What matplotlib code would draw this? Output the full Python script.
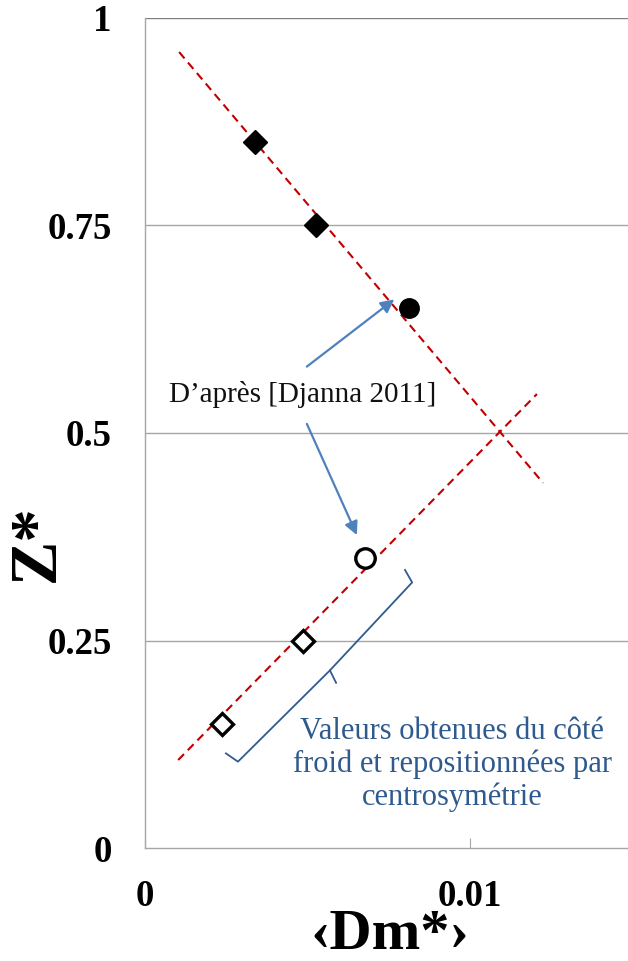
import matplotlib
matplotlib.use("Agg")
import matplotlib.pyplot as plt
import numpy as np

plt.rcParams['font.family'] = ['Liberation Serif', 'DejaVu Serif']

# mean diameter vs height, hot side (filled) and cold side mirrored (open)
dm_hot = [0.00338, 0.00526]
z_hot = [0.85, 0.75]
dm_ref_hot = [0.00812]
z_ref_hot = [0.65]
dm_ref_cold = [0.00677]
z_ref_cold = [0.35]
dm_cold = [0.00486, 0.00237]
z_cold = [0.25, 0.15]

# trend lines (start, end)
trend1_x = [0.00105, 0.01225]
trend1_y = [0.959, 0.4398]
trend2_x = [0.00102, 0.01206]
trend2_y = [0.106, 0.547]

yticks = [0, 0.25, 0.5, 0.75, 1]
ytick_labels = ['0', '0.25', '0.5', '0.75', '1']
xticks = [0, 0.01]
xtick_labels = ['0', '0.01']

fig = plt.figure(figsize=(6.28, 9.61), dpi=100)
ax = fig.add_axes([145 / 628, 113 / 961, 483 / 628, 830 / 961])
ax.set_xlim(0, 483 / 32500)
ax.set_ylim(0, 1)

grey = '#a6a6a6'
for y in yticks[1:]:
    ax.axhline(y, color=grey if y < 1 else '#808080', lw=1.0, zorder=0)

for s in ['top', 'right']:
    ax.spines[s].set_visible(False)
ax.spines['left'].set_color(grey)
ax.spines['bottom'].set_color(grey)
ax.spines['left'].set_linewidth(1.0)
ax.spines['bottom'].set_linewidth(1.0)

red = '#c00000'
ax.plot(trend1_x, trend1_y, ls=(0, (4, 2.6)), color=red, lw=1.5, zorder=2)
ax.plot(trend2_x, trend2_y, ls=(0, (4, 2.6)), color=red, lw=1.5, zorder=2)

ax.plot(dm_hot, z_hot, 'D', ms=12, color='black', zorder=3)
ax.plot(dm_ref_hot, z_ref_hot, 'o', ms=14, color='black', zorder=3)
ax.plot(dm_ref_cold, z_ref_cold, 'o', ms=14, mfc='white', mec='black', mew=2.4, zorder=3)
ax.plot(dm_cold, z_cold, 'D', ms=11.5, mfc='white', mec='black', mew=2.4, zorder=3)

ax.set_xticks(xticks)
ax.set_xticklabels(xtick_labels)
ax.set_yticks(yticks)
ax.set_yticklabels(ytick_labels)
ax.tick_params(axis='x', direction='in', length=7, color=grey, pad=22,
               labelsize=26.5)
ax.tick_params(axis='y', length=0, pad=24, labelsize=26.5)
for lbl in ax.get_xticklabels() + ax.get_yticklabels():
    lbl.set_fontweight('bold')

ax.set_ylabel('Z*', fontsize=48, fontweight='bold', va='center')
ax.yaxis.set_label_coords(-0.223, 0.367)
ax.set_xlabel('\u2039Dm*\u203a', fontsize=42, fontweight='bold', va='center')
ax.xaxis.set_label_coords(0.507, -0.105)

# reference annotation
arrow_blue = '#4f81bd'
ax.text(0.00486, 0.546, 'D\u2019après [Djanna 2011]', fontsize=21,
        ha='center', va='center', color='#111111')
ax.annotate('', xy=(dm_ref_hot[0] - 0.00045, z_ref_hot[0] + 0.011),
            xytext=(0.00498, 0.580),
            arrowprops=dict(arrowstyle='-|>', color=arrow_blue, lw=1.6,
                            mutation_scale=20, shrinkA=0, shrinkB=0))
ax.annotate('', xy=(dm_ref_cold[0] - 0.00025, z_ref_cold[0] + 0.027),
            xytext=(0.00498, 0.511),
            arrowprops=dict(arrowstyle='-|>', color=arrow_blue, lw=1.6,
                            mutation_scale=20, shrinkA=0, shrinkB=0))

# brace around the cold-side values
brace_blue = '#2f5b8f'
ax.plot([0.00800, 0.00822, 0.00569, 0.00588], [0.335, 0.320, 0.214, 0.199],
        color=brace_blue, lw=1.3, zorder=2)
ax.plot([0.00569, 0.00286, 0.00249], [0.214, 0.104, 0.114],
        color=brace_blue, lw=1.3, zorder=2)
ax.text(0.00945, 0.101,
        'Valeurs obtenues du côté\nfroid et repositionnées par\ncentrosymétrie',
        fontsize=22, ha='center', va='center', color='#2e5a8e',
        linespacing=1.15)

fig.savefig('out.png', dpi=100)
